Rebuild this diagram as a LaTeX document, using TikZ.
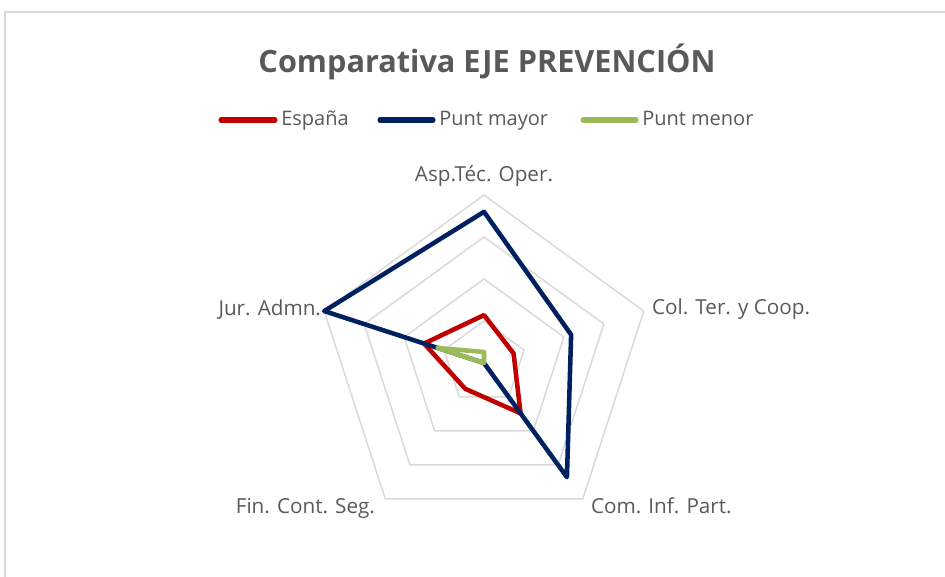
\documentclass[tikz,border=0pt]{standalone}
\usepackage{fontspec}
\setmainfont{Open Sans}
\usetikzlibrary{positioning}
\definecolor{espred}{HTML}{C00000}
\definecolor{mayblue}{HTML}{002060}
\definecolor{mengreen}{HTML}{9BBB59}
\definecolor{txtgray}{HTML}{595959}
\definecolor{gridgray}{HTML}{D9D9D9}
\tikzstyle{series} = [line width=3.4pt, line join=round]
\tikzstyle{ring} = [draw=gridgray, line width=1.1pt]
\tikzstyle{axislabel} = [text=txtgray, font=\fontsize{15.5}{18}\selectfont, inner sep=0pt]
\tikzstyle{legline} = [line width=3.8pt, line cap=round]
\tikzstyle{legtext} = [text=txtgray, font=\fontsize{15}{18}\selectfont, inner sep=0pt, anchor=base west]

\begin{document}
\begin{tikzpicture}[x=0.75pt,y=0.75pt]
\useasboundingbox (0,0) rectangle (945,576);
\draw [gridgray, line width=1.1pt] (5,-20) -- (5,564) -- (960,564);

% title and legend
\node [text=txtgray, font=\bfseries\fontsize{23}{28}\selectfont, anchor=base] (title) at (487,503) {Comparativa EJE PREVENCIÓN};

\coordinate (l1a) at (221,456); \coordinate (l1b) at (275,456);
\coordinate (l2a) at (380,456); \coordinate (l2b) at (433,456);
\coordinate (l3a) at (583,456); \coordinate (l3b) at (636,456);
\draw [legline, espred] (l1a) -- (l1b);
\draw [legline, mayblue] (l2a) -- (l2b);
\draw [legline, mengreen] (l3a) -- (l3b);
\node [legtext] (esp) at (281,450.5) {España};
\node [legtext] (may) at (439,450.5) {Punt mayor};
\node [legtext] (men) at (642,450.5) {Punt menor};

\begin{scope}[shift={(484,213)}]
% grid
\foreach \r in {42,84,126,168}
  \draw [ring] (90:\r) -- (18:\r) -- (-54:\r) -- (-126:\r) -- (162:\r) -- cycle;
\foreach \a [count=\i] in {90,18,-54,-126,162}
  \coordinate (v\i) at (\a:168);

% series
\foreach \a/\r [count=\i] in {90/47.9,18/31.1,-54/62.2,-126/31.9,162/63}
  \coordinate (e\i) at (\a:\r);
\foreach \a/\r [count=\i] in {90/151.2,18/91.6,-54/141.1,-126/0,162/168}
  \coordinate (m\i) at (\a:\r);
\foreach \a/\r [count=\i] in {90/11,18/0,-54/0,-126/0,162/48.7}
  \coordinate (n\i) at (\a:\r);

\draw [series, espred] (e1) -- (e2) -- (e3) -- (e4) -- (e5) -- cycle;
\draw [series, mayblue] (m1) -- (m2) -- (m3) -- (m4) -- (m5) -- cycle;
\draw [series, mengreen] (n1) -- (n2) -- (n3) -- (n4) -- (n5) -- cycle;
\end{scope}

% axis labels
\node [axislabel, anchor=base, above=14 of v1.center, anchor=base] (asp) {Asp.Téc. Oper.};
\node [axislabel, anchor=base west] (col) at ([shift={(8,-3.5)}]v2) {Col. Ter. y Coop.};
\node [axislabel, anchor=base west] (com) at ([shift={(8,-15)}]v3) {Com. Inf. Part.};
\node [axislabel, anchor=base east] (fin) at ([shift={(-10,-15)}]v4) {Fin. Cont. Seg.};
\node [axislabel, anchor=base east] (jur) at ([shift={(-3,-4)}]v5) {Jur. Admn.};
\end{tikzpicture}
\end{document}
